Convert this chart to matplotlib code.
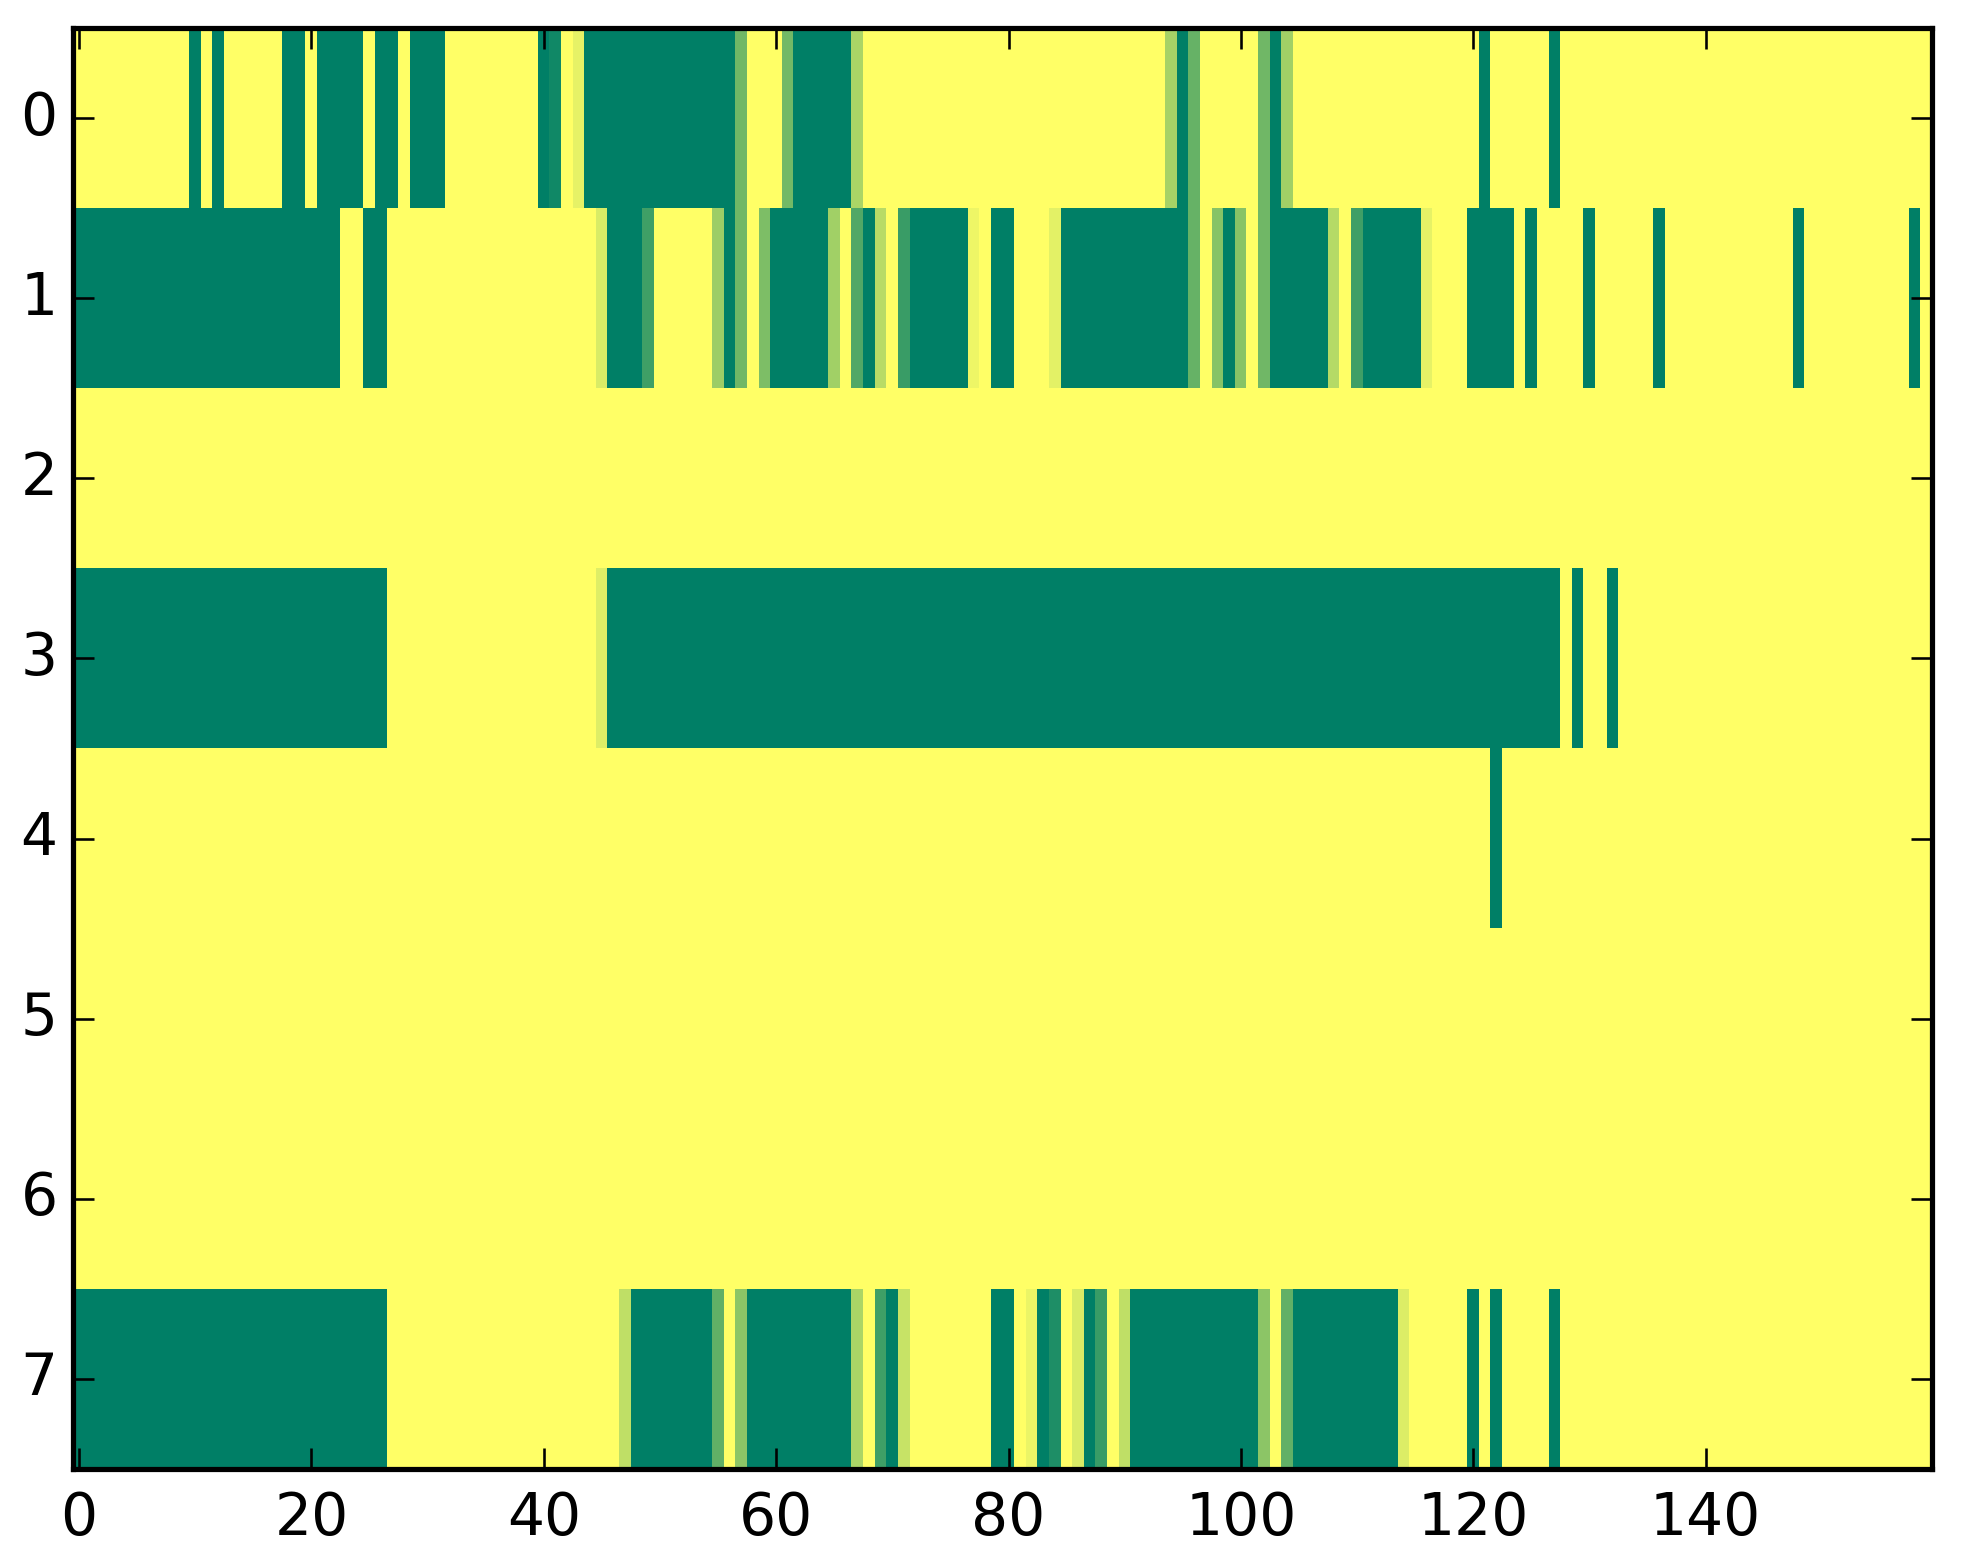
import numpy as np
import matplotlib
matplotlib.use("Agg")
import matplotlib.pyplot as plt

n_rows, n_cols = 8, 160

# runs of filled cells per row: (first column, last column, value)
row0 = [(10, 10, 1), (12, 12, 1), (18, 19, 1), (21, 24, 1), (26, 27, 1), (29, 31, 1),
        (40, 40, 1), (41, 41, 0.93), (43, 43, 0.1), (44, 56, 1), (57, 57, 0.56),
        (61, 61, 0.55), (62, 66, 1), (67, 67, 0.33), (94, 94, 0.35), (95, 95, 1),
        (96, 96, 0.6), (102, 102, 0.56), (103, 103, 1), (104, 104, 0.37),
        (121, 121, 1), (127, 127, 1)]
row1 = [(0, 22, 1), (25, 26, 1), (45, 45, 0.15), (46, 48, 1), (49, 49, 0.75),
        (55, 55, 0.39), (56, 56, 1), (57, 57, 0.56), (59, 59, 0.51), (60, 64, 1),
        (65, 65, 0.37), (67, 67, 0.68), (68, 68, 1), (69, 69, 0.28), (71, 71, 0.77),
        (72, 76, 1), (77, 77, 0.07), (79, 80, 1), (84, 84, 0.11), (85, 95, 1),
        (96, 96, 0.6), (98, 98, 0.47), (99, 99, 1), (100, 100, 0.47), (102, 102, 0.56),
        (103, 107, 1), (108, 108, 0.29), (110, 110, 0.75), (111, 115, 1),
        (116, 116, 0.1), (120, 123, 1), (125, 125, 1), (130, 130, 1), (136, 136, 1),
        (148, 148, 1), (158, 158, 1)]
row2 = []
row3 = [(0, 26, 1), (45, 45, 0.13), (46, 127, 1), (129, 129, 1), (132, 132, 1)]
row4 = [(122, 122, 1)]
row5 = []
row6 = []
row7 = [(0, 26, 1), (47, 47, 0.25), (48, 54, 1), (55, 55, 0.62), (57, 57, 0.45),
        (58, 66, 1), (67, 67, 0.33), (69, 69, 0.75), (70, 70, 1), (71, 71, 0.22),
        (79, 80, 1), (82, 82, 0.08), (83, 83, 1), (84, 84, 0.88), (86, 86, 0.15),
        (87, 87, 1), (88, 88, 0.77), (90, 90, 0.25), (91, 101, 1), (102, 102, 0.45),
        (104, 104, 0.62), (105, 113, 1), (114, 114, 0.14), (120, 120, 1),
        (122, 122, 1), (127, 127, 1)]

rows = [row0, row1, row2, row3, row4, row5, row6, row7]
data = np.zeros((n_rows, n_cols))
for r, runs in enumerate(rows):
    for a, b, v in runs:
        data[r, a:b + 1] = v

plt.style.use('classic')
W, H, dpi = 1963, 1564, 375
fig = plt.figure(figsize=(W / dpi, H / dpi), dpi=dpi)
ax = fig.add_axes([73.2 / W, (H - 1469) / H, 1859 / W, 1441 / H])
ax.imshow(data, aspect='auto', interpolation='nearest', cmap='summer_r',
          vmin=0, vmax=1)
ax.set_xticks(np.arange(0, 141, 20))
ax.set_yticks(np.arange(8))
ax.tick_params(labelsize=11.2)
ax.tick_params(axis='y', pad=3)

fig.savefig('out.png', dpi=dpi)
